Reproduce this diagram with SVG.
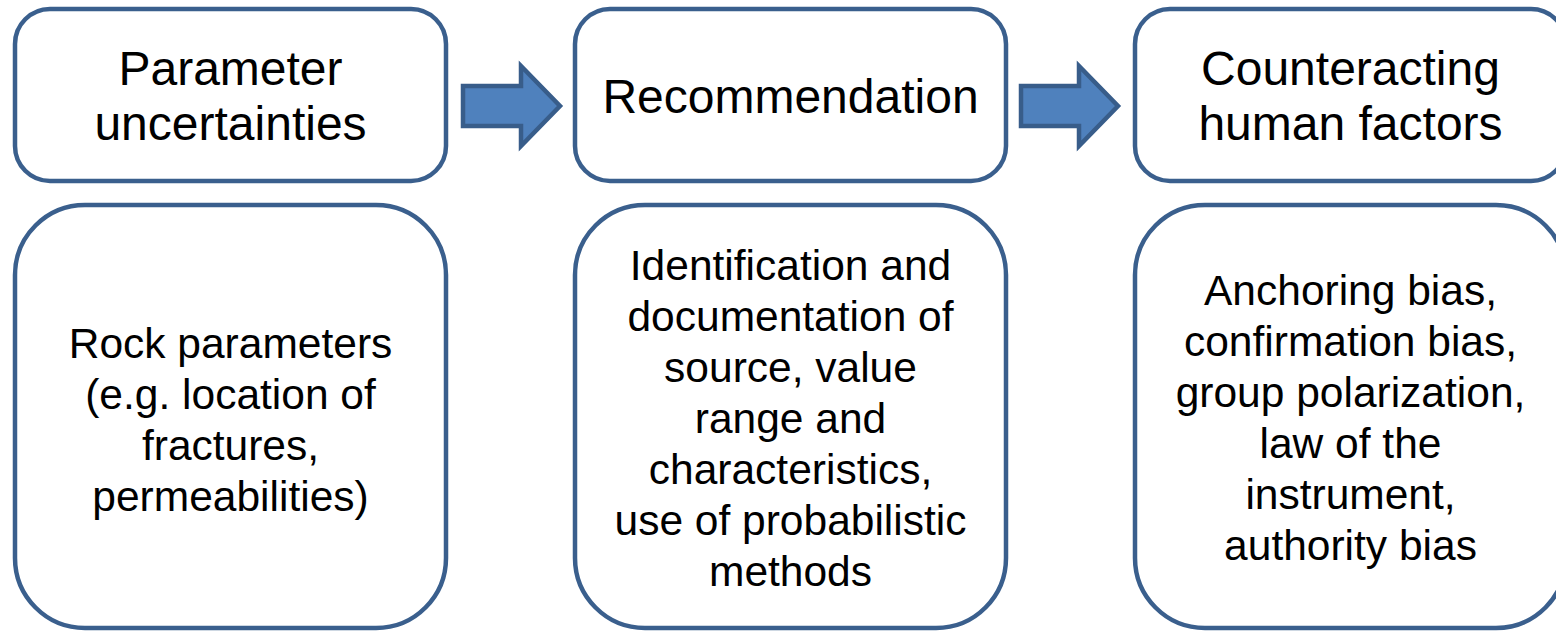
<svg xmlns="http://www.w3.org/2000/svg" width="1556" height="631" viewBox="0 0 1556 631">
  <style>
    .box { fill: #ffffff; stroke: #3a5f8d; stroke-width: 4.5; }
    .arrow { fill: #4f81bd; stroke: #385d8a; stroke-width: 4.5; stroke-linejoin: miter; }
    .head { font-family: "Liberation Sans", Arial, sans-serif; font-size: 48px; fill: #000000; text-anchor: middle; }
    .body { font-family: "Liberation Sans", Arial, sans-serif; font-size: 42.5px; fill: #000000; text-anchor: middle; }
  </style>
  <defs>
    <path id="blockArrow" d="M463,86 H521 V66 L560,106 L521,146 V126 H463 Z"/>
  </defs>
  <rect width="1556" height="631" fill="#ffffff"/>

  <!-- column 1 -->
  <g id="param-head">
    <rect class="box" x="15" y="9" width="431" height="172" rx="35" ry="35"/>
    <text class="head" x="230.5" y="85">Parameter</text>
    <text class="head" x="230.5" y="140">uncertainties</text>
  </g>
  <g id="param-body">
    <rect class="box" x="15" y="205" width="431" height="423" rx="70" ry="70"/>
    <text class="body" x="230.5" y="358">Rock parameters</text>
    <text class="body" x="230.5" y="409">(e.g. location of</text>
    <text class="body" x="230.5" y="460">fractures,</text>
    <text class="body" x="230.5" y="511">permeabilities)</text>
  </g>

  <!-- column 2 -->
  <g id="rec-head">
    <rect class="box" x="575" y="9" width="431" height="172" rx="35" ry="35"/>
    <text class="head" x="790.5" y="113">Recommendation</text>
  </g>
  <g id="rec-body">
    <rect class="box" x="575" y="205" width="431" height="423" rx="70" ry="70"/>
    <text class="body" x="790.5" y="280">Identification and</text>
    <text class="body" x="790.5" y="331">documentation of</text>
    <text class="body" x="790.5" y="382">source, value</text>
    <text class="body" x="790.5" y="433">range and</text>
    <text class="body" x="790.5" y="484">characteristics,</text>
    <text class="body" x="790.5" y="535">use of probabilistic</text>
    <text class="body" x="790.5" y="586">methods</text>
  </g>

  <!-- column 3 -->
  <g id="human-head">
    <rect class="box" x="1135" y="9" width="431" height="172" rx="35" ry="35"/>
    <text class="head" x="1350.5" y="85">Counteracting</text>
    <text class="head" x="1350.5" y="140">human factors</text>
  </g>
  <g id="human-body">
    <rect class="box" x="1135" y="205" width="431" height="423" rx="70" ry="70"/>
    <text class="body" x="1350.5" y="305">Anchoring bias,</text>
    <text class="body" x="1350.5" y="356">confirmation bias,</text>
    <text class="body" x="1350.5" y="407">group polarization,</text>
    <text class="body" x="1350.5" y="458">law of the</text>
    <text class="body" x="1350.5" y="509">instrument,</text>
    <text class="body" x="1350.5" y="560">authority bias</text>
  </g>

  <!-- connectors -->
  <g id="connectors">
    <use href="#blockArrow" class="arrow"/>
    <use href="#blockArrow" class="arrow" transform="translate(558,0)"/>
  </g>
</svg>
